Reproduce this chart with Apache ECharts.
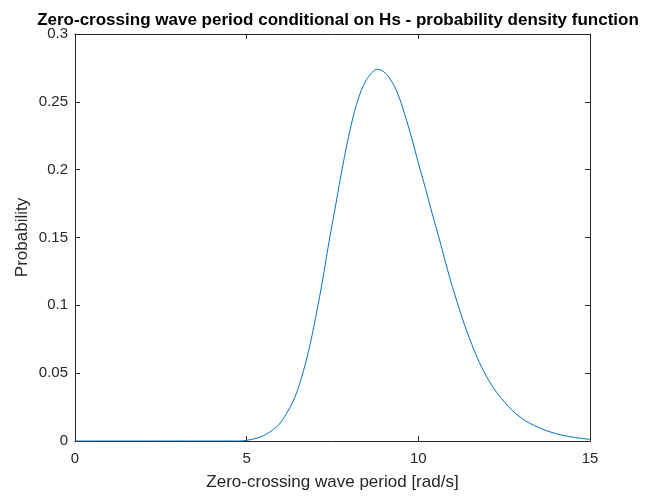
<!DOCTYPE html>
<html>
<head>
<meta charset="utf-8">
<script src="https://cdn.jsdelivr.net/npm/echarts@6/dist/echarts.min.js"></script>
<style>html,body{margin:0;padding:0;background:#fff;}#c{width:657px;height:496px;}</style>
</head>
<body>
<div id="c"></div>
<script>
const periods = [0, 1, 2, 3, 4, 4.8, 5.0, 5.2, 5.4, 5.6, 5.8, 6.0, 6.2, 6.4, 6.6, 6.8, 7.0, 7.2, 7.4, 7.6, 7.8, 8.0, 8.2, 8.4, 8.6, 8.8, 9.0, 9.2, 9.4, 9.6, 9.8, 10.0, 10.2, 10.4, 10.6, 10.8, 11.0, 11.5, 12.0, 12.5, 13.0, 13.5, 14.0, 14.5, 15.0];
const density = [0, 0, 0, 0, 0, 0, 0.0005, 0.0015, 0.003, 0.0055, 0.009, 0.014, 0.022, 0.032, 0.047, 0.066, 0.090, 0.117, 0.147, 0.175, 0.203, 0.228, 0.248, 0.262, 0.270, 0.274, 0.272, 0.266, 0.256, 0.241, 0.224, 0.205, 0.187, 0.168, 0.150, 0.131, 0.113, 0.075, 0.047, 0.029, 0.017, 0.010, 0.0055, 0.0028, 0.0012];
const xTicks = [0, 5, 10, 15];
const yTicks = [0, 0.05, 0.1, 0.15, 0.2, 0.25, 0.3];

const axisColor = '#262626';
const font = 'Liberation Sans, Arial, Helvetica, sans-serif';
const chart = echarts.init(document.getElementById('c'));
const baseX = {
  type: 'value', min: xTicks[0], max: xTicks[xTicks.length - 1], interval: 5,
  axisLine: {show: true, onZero: false, lineStyle: {color: axisColor, width: 1}},
  axisTick: {show: true, inside: true, length: 5, lineStyle: {color: axisColor}},
  splitLine: {show: false}
};
const baseY = {
  type: 'value', min: yTicks[0], max: yTicks[yTicks.length - 1], interval: 0.05,
  axisLine: {show: true, onZero: false, lineStyle: {color: axisColor, width: 1}},
  axisTick: {show: true, inside: true, length: 5, lineStyle: {color: axisColor}},
  splitLine: {show: false}
};
chart.setOption({
  animation: false,
  backgroundColor: '#ffffff',
  title: {
    text: 'Zero-crossing wave period conditional on Hs - probability density function',
    left: 333, textAlign: 'center', top: 7,
    textStyle: {fontFamily: font, fontSize: 17, fontWeight: 'bold', color: '#000'}
  },
  grid: {left: 75, right: 67, top: 34, bottom: 55, containLabel: false, outerBoundsMode: 'none'},
  xAxis: [
    Object.assign({}, baseX, {
      position: 'bottom',
      name: 'Zero-crossing wave period [rad/s]', nameLocation: 'middle', nameGap: 33,
      nameMoveOverlap: false,
      nameTextStyle: {fontFamily: font, fontSize: 17, color: axisColor},
      axisLabel: {show: true, margin: 10, fontFamily: font, fontSize: 15, color: axisColor}
    }),
    Object.assign({}, baseX, {position: 'top', axisLabel: {show: false}})
  ],
  yAxis: [
    Object.assign({}, baseY, {
      position: 'left',
      name: 'Probability', nameLocation: 'middle', nameGap: 44,
      nameMoveOverlap: false,
      nameTextStyle: {fontFamily: font, fontSize: 17, color: axisColor},
      axisLabel: {show: true, margin: 7, fontFamily: font, fontSize: 15, color: axisColor,
        formatter: v => String(+v.toFixed(2))}
    }),
    Object.assign({}, baseY, {position: 'right', axisLabel: {show: false}})
  ],
  series: [{
    type: 'line', xAxisIndex: 0, yAxisIndex: 0,
    data: periods.map((p, i) => [p, density[i]]),
    smooth: 0.4, showSymbol: false,
    lineStyle: {color: '#0072BD', width: 1},
    clip: true
  }]
});
</script>
</body>
</html>
